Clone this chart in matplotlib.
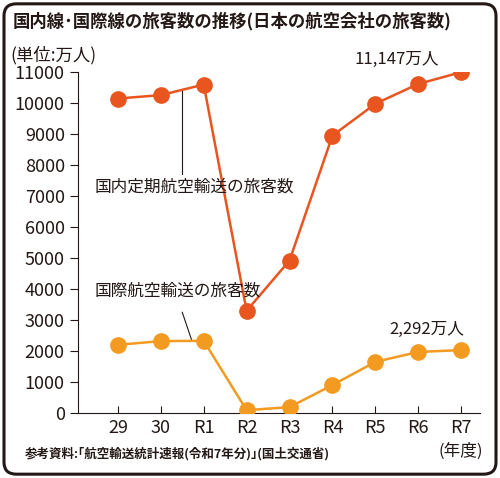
import matplotlib

matplotlib.use("Agg")
import matplotlib.pyplot as plt
from matplotlib.patches import FancyBboxPatch

plt.rcParams["font.family"] = ["Noto Sans CJK JP", "DejaVu Sans"]

years = ["29", "30", "R1", "R2", "R3", "R4", "R5", "R6", "R7"]
domestic = [10150, 10260, 10600, 3300, 4920, 8950, 9980, 10620, 11000]
international = [2200, 2320, 2330, 90, 190, 900, 1650, 1970, 2030]

RED = "#e9551f"
ORANGE = "#f39a21"
INK = "#231815"

fig = plt.figure(figsize=(5, 4.78), dpi=100)
fig.patches.append(FancyBboxPatch((0.008, 0.008), 0.984, 0.984,
                                  boxstyle="round,pad=0,rounding_size=0.025",
                                  transform=fig.transFigure, fill=False,
                                  ec=INK, lw=2.2))
ax = fig.add_axes([0.156, 0.136, 0.804, 0.713])
x = list(range(len(years)))

ax.plot(x, domestic, color=RED, lw=1.8, marker="o", ms=11, zorder=3)
ax.plot(x, international, color=ORANGE, lw=1.8, marker="o", ms=11, zorder=3)

ax.set_ylim(0, 11000)
ax.set_xlim(-0.93, 8.44)
ax.set_yticks(range(0, 11001, 1000))
ax.set_xticks(x)
ax.set_xticklabels(years)
ax.tick_params(axis="y", direction="out", length=6, labelsize=13, colors=INK)
ax.tick_params(axis="x", direction="in", length=5, labelsize=13, colors=INK, pad=4)
for s in ("top", "right"):
    ax.spines[s].set_visible(False)
for s in ("left", "bottom"):
    ax.spines[s].set_color(INK)

# leader lines
ax.plot([1.5, 1.5], [10450, 7700], color=INK, lw=0.8)
ax.text(-0.55, 7300, "国内定期航空輸送の旅客数", fontsize=12, color=INK, va="center")
ax.plot([1.5, 1.72], [3250, 2350], color=INK, lw=0.8)
ax.text(-0.55, 3950, "国際航空輸送の旅客数", fontsize=12, color=INK, va="center")
ax.text(6.5, 11250, "11,147万人", fontsize=12, color=INK, ha="center")
ax.text(7.2, 2550, "2,292万人", fontsize=12, color=INK, ha="center")
ax.text(8.0, -950, "(年度)", fontsize=12, color=INK, ha="center", va="top")

fig.text(0.025, 0.955, "国内線･国際線の旅客数の推移(日本の航空会社の旅客数)",
         fontsize=12.5, fontweight="bold", color=INK, va="center")
fig.text(0.02, 0.885, "(単位:万人)", fontsize=12.5, color=INK, va="center")
fig.text(0.05, 0.05, "参考資料:｢航空輸送統計速報(令和7年分)｣(国土交通省)",
         fontsize=9, fontweight="bold", color=INK, va="center")

fig.savefig("out.png", dpi=100)
